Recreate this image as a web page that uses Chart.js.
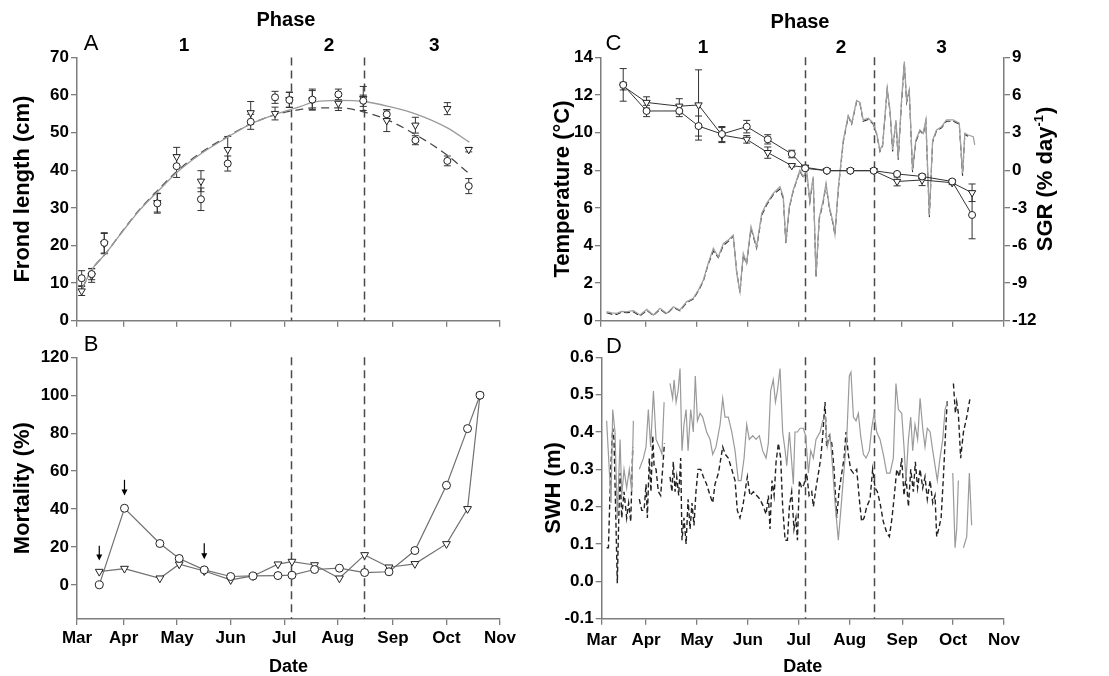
<!DOCTYPE html>
<html><head><meta charset="utf-8">
<script src="https://cdn.jsdelivr.net/npm/chart.js@4.4.1/dist/chart.umd.min.js"></script>
<style>
html,body{margin:0;padding:0;background:#fff;width:1109px;height:676px;overflow:hidden;position:relative;}
canvas{position:absolute;}
</style></head><body>
<canvas id="cA" width="540" height="330" style="left:0;top:0"></canvas>
<canvas id="cB" width="540" height="346" style="left:0;top:330px"></canvas>
<canvas id="cC" width="569" height="330" style="left:540px;top:0"></canvas>
<canvas id="cD" width="569" height="346" style="left:540px;top:330px"></canvas>
<script>
// ---------- shared axis data ----------
const monthLabels = ['Mar','Apr','May','Jun','Jul','Aug','Sep','Oct','Nov'];
const monthTickDays = [0,27,58,89,120,151,183,214,245];
const phaseBoundaryDays = [124,166];
const phaseNames = ['1','2','3'];
const phaseLabelDays = [62,146,207];
const phaseTitleDay = 121;

// ---------- Panel A: frond length ----------
const frondTicks = [0,10,20,30,40,50,60,70];
const frondDays = [2.7,8.5,15.8,46.5,57.7,71.8,87.3,100.6,114.7,123,136.3,151.4,165.8,179.4,196,214.5,226.9];
const frondCircle = [11.3,12.4,20.7,31.2,41.1,32.3,41.8,52.9,59.4,58.7,58.8,60.2,58.5,54.9,48.0,42.5,35.8];
const frondCircleErr = [2.0,1.5,2.7,2.6,3.0,3.0,2.0,2.0,1.6,2.0,2.8,1.4,1.5,1.2,1.2,1.3,2.0];
const frondTri = [7.9,12.0,20.5,31.4,43.6,37.1,45.5,55.3,55.1,58.8,58.7,57.8,59.1,53.2,52.0,56.4,45.5];
const frondTriErr = [1.2,1.8,2.7,2.5,2.5,2.8,3.5,3.0,1.7,2.0,2.5,1.9,3.2,2.9,2.1,1.6,0.6];
const fitDays = [3.1,8.3,16.7,27,36.3,46.6,58.3,71.8,87.6,101,115,129.6,136.5,151.6,166.4,180.4,196.8,214.5,227.2];
const fitTriSolid = [8.6,13.4,17.9,24.1,29.4,34.3,39.6,44.4,48.9,52.4,54.9,57.0,58.1,58.6,58.3,57.0,54.9,51.3,47.5];
const fitCircleDashed = [8.6,13.4,17.9,24.2,29.6,34.6,39.9,44.7,49.1,52.4,54.8,56.2,56.6,56.6,55.5,53.3,49.3,44.0,39.1];

// ---------- Panel B: mortality ----------
const mortTicks = [0,20,40,60,80,100,120];
const mortDays = [12.9,27.5,48,59.2,73.7,89,102,116.4,124.5,137.6,152,166.6,180.7,195.7,214,226.2,233.4];
const mortCircle = [0,40.4,21.8,13.9,7.9,4.4,4.7,4.9,5.1,8.1,8.8,6.5,6.9,18.1,52.5,82.4,100];
const mortTri = [7.0,8.6,3.5,10.9,7.3,2.6,4.7,10.9,12.3,10.5,3.5,15.8,9.3,11.1,21.6,40.1,100];
const arrowDays = [12.9,27.5,73.7];
const arrowFrom = [20.6,55.4,22];
const arrowTo = [12.8,47.1,13.5];

// ---------- Panel C: temperature & SGR ----------
const tempTicks = [0,2,4,6,8,10,12,14];
const sgrTicks = [-12,-9,-6,-3,0,3,6,9];
const sgrDays = [13.5,27.7,47.6,59.3,73.5,88.6,101.4,116,124.1,137.3,151.6,165.8,180,195.2,213.5,225.6];
const sgrCircle = [6.8,4.72,4.72,3.52,2.88,3.47,2.46,1.29,0.15,-0.04,-0.04,-0.04,-0.3,-0.5,-0.9,-3.57];
const sgrCircleErr = [1.3,0.45,0.45,0.8,0.6,0.5,0.37,0.3,0.15,0.1,0.15,0.15,0.1,0.15,0.15,1.9];
const sgrTri = [6.7,5.4,5.1,5.2,2.8,2.46,1.4,0.36,0.23,-0.04,-0.04,-0.04,-0.9,-0.78,-1.0,-1.8];
const sgrTriErr = [0.3,0.45,0.6,2.8,0.6,0.3,0.45,0.1,0.15,0.1,0.1,0.1,0.35,0.45,0.15,0.7];
const tempGray = [[3.4,0.48],[6.5,0.42],[9.5,0.39],[12.5,0.5],[15.6,0.48],[19.7,0.53],[23.7,0.30],[27.8,0.60],[31.8,0.30],[35.9,0.66],[39.9,0.39],[44,0.74],[48,0.57],[52,1.0],[56.1,1.19],[59.2,1.63],[62.2,2.16],[65.2,3.05],[68.3,3.85],[71.3,3.4],[74.4,4.11],[77.4,4.29],[80.4,4.55],[82.5,2.52],[84.5,1.55],[86.5,3.58],[88.5,3.05],[91.2,5.0],[94.6,3.93],[97.7,5.7],[100.7,6.24],[104.7,6.77],[108.8,7.12],[110.8,6.6],[112.4,4.15],[114.5,6.06],[116.9,6.95],[120.9,8.0],[123,7.66],[125,8.0],[127,6.4],[129,7.66],[130.7,2.4],[132.7,5.5],[135.1,6.4],[136.8,7.3],[138.8,6.06],[141.2,5.17],[142.2,4.6],[144.3,7.1],[147.3,9.6],[150.3,10.9],[152.4,10.5],[155.4,11.7],[157.4,11.6],[159.4,10.67],[162.5,10.76],[165.5,10.5],[167.6,9.96],[169.6,9.07],[171.2,9.34],[174,12.35],[175.7,11.2],[177.3,9.07],[179.3,10.67],[180.7,8.63],[182.7,11.7],[184.4,13.77],[185.8,11.7],[187.4,12.26],[189.4,8.0],[191.4,9.6],[193.9,10.14],[195.9,9.96],[197.5,10.67],[199.6,5.6],[201.6,9.6],[204,10.14],[207,10.31],[210.1,10.67],[214.1,10.67],[217.8,10.5],[219.8,7.83],[221.2,9.96],[223.2,9.87],[226.3,9.78],[227.2,9.34]];
const tempBlack = [[3.4,0.42],[6.5,0.35],[9.5,0.33],[12.5,0.45],[15.6,0.42],[19.7,0.47],[23.7,0.25],[27.8,0.55],[31.8,0.27],[35.9,0.6],[39.9,0.35],[44,0.7],[48,0.52],[52,0.95],[56.1,1.15],[59.2,1.58],[62.2,2.1],[65.2,3.0],[68.3,3.7],[71.3,3.35],[74.4,4.0],[77.4,4.22],[80.4,4.5],[82.5,2.6],[84.5,1.5],[86.5,3.5],[88.5,3.0],[91.2,4.9],[94.6,3.85],[97.7,5.6],[100.7,6.15],[104.7,6.7],[108.8,7.0],[110.8,6.5],[112.4,4.1],[114.5,6.0],[116.9,6.9],[120.9,7.95],[123,7.6],[125,7.95],[127,6.3],[129,7.6],[130.7,2.3],[132.7,5.4],[135.1,6.3],[136.8,7.2],[138.8,6.0],[141.2,5.1],[142.2,4.55],[144.3,7.0],[147.3,9.5],[150.3,10.85],[152.4,10.45],[155.4,11.65],[157.4,11.55],[159.4,10.6],[162.5,10.7],[165.5,10.45],[167.6,9.9],[169.6,9.0],[171.2,9.3],[174,12.3],[175.7,11.1],[177.3,9.0],[179.3,10.6],[180.7,8.55],[182.7,11.6],[184.4,13.7],[185.8,11.6],[187.4,12.2],[189.4,7.9],[191.4,9.5],[193.9,10.1],[195.9,9.9],[197.5,10.6],[199.6,5.5],[201.6,9.5],[204,10.1],[207,10.25],[210.1,10.6],[214.1,10.6],[217.8,10.45],[219.8,7.7],[221.2,9.9],[223.2,9.8]];

// ---------- Panel D: significant wave height ----------
const swhTicks = [-0.1,0.0,0.1,0.2,0.3,0.4,0.5,0.6];
const swhGray = [[3.0,0.43],[5.7,0.21],[6.7,0.46],[8.1,0.40],[9.5,0.17],[11.2,0.38],[12.2,0.23],[13.6,0.30],[15.2,0.25],[16.8,0.30],[18.3,0.24],[19.3,0.43],[21,null],
[22.9,0.30],[25.4,0.33],[27.0,0.36],[28.4,0.46],[29.8,0.36],[31.5,0.51],[33.1,0.38],[35.1,0.36],[36.7,0.34],[38.0,0.48],[40,null],
[41.6,0.53],[43.2,0.49],[44.1,0.54],[45.3,0.48],[46.5,0.51],[47.7,0.57],[48.9,0.35],[50.1,0.42],[51.4,0.46],[52.6,0.35],[54.2,0.46],[55.8,0.40],[57.0,0.55],[58.3,0.43],[59.9,0.45],[61.5,0.44],[63.9,0.40],[66.0,0.38],[67.6,0.34],[69.6,0.36],[72.1,0.42],[73.7,0.49],[75.1,0.44],[77.1,0.44],[79.2,0.40],[81.2,0.35],[83.2,0.27],[84.9,0.27],[86.7,0.33],[88.3,0.42],[89.9,0.38],[92.0,0.39],[94.0,0.38],[96.0,0.39],[98.0,0.35],[100.1,0.33],[101.5,0.37],[102.9,0.51],[104.5,0.54],[105.8,0.48],[107.0,0.51],[108.6,0.57],[110.2,0.40],[111.7,0.35],[112.7,0.31],[114.3,0.40],[115.7,0.32],[116.7,0.26],[117.7,0.40],[119.2,0.40],[120.8,0.41],[122.8,0.41],[124.2,0.39],[125.9,0.29],[127.3,0.35],[128.9,0.33],[130.5,0.38],[133.0,0.40],[134.6,0.43],[136.2,0.44],[137.4,0.36],[139.1,0.39],[140.7,0.30],[142.1,0.21],[144.1,0.11],[145.8,0.20],[147.6,0.30],[149.2,0.38],[150.8,0.55],[151.8,0.56],[153.3,0.44],[154.9,0.43],[156.3,0.45],[157.7,0.39],[159.4,0.34],[161.0,0.33],[163.0,0.35],[164.4,0.41],[165.9,0.45],[167.5,0.40],[169.5,0.38],[171.5,0.34],[173.6,0.29],[175.6,0.29],[177.6,0.33],[179.2,0.53],[180.7,0.46],[182.7,0.45],[184.1,0.36],[185.3,0.27],[186.8,0.38],[188.2,0.44],[189.4,0.35],[190.8,0.42],[192.4,0.38],[193.9,0.49],[195.5,0.41],[196.9,0.36],[198.3,0.41],[200.0,0.40],[201.6,0.35],[203.0,0.31],[204.4,0.27],[206.0,0.33],[207.7,0.38],[209.1,0.46],[210.5,0.48],[212,null],
[213.8,0.29],[215.2,0.09],[216.2,0.14],[217.2,0.27],[219,null],[220.3,0.09],[222.3,0.12],[223.9,0.29],[225.3,0.15]];
const swhBlack = [[3.0,0.09],[4.1,0.09],[5.5,0.30],[6.7,0.41],[7.5,0.38],[8.3,0.23],[9.5,-0.005],[10.4,0.17],[11.2,0.29],[12.2,0.17],[13.6,0.24],[15.2,0.17],[16.4,0.21],[17.7,0.16],[18.9,0.36],[21,null],
[22.9,0.22],[24.4,0.19],[25.8,0.19],[27.0,0.26],[27.8,0.17],[29.0,0.33],[30.0,0.24],[31.1,0.39],[31.9,0.31],[33.1,0.30],[34.5,0.24],[35.9,0.23],[37.1,0.30],[38.2,0.37],[40,null],
[41.6,0.28],[42.8,0.24],[43.6,0.32],[44.7,0.24],[45.7,0.28],[46.9,0.23],[48.1,0.33],[48.9,0.11],[50.1,0.17],[51.4,0.10],[52.6,0.22],[53.8,0.14],[55.0,0.21],[56.2,0.15],[57.4,0.24],[58.7,0.30],[60.3,0.30],[61.9,0.28],[63.9,0.26],[66.0,0.23],[67.6,0.21],[69.0,0.26],[71.1,0.29],[73.7,0.36],[75.3,0.34],[77.1,0.33],[79.2,0.30],[81.2,0.27],[82.6,0.19],[84.2,0.17],[85.9,0.20],[87.3,0.24],[88.7,0.28],[90.3,0.23],[92.4,0.24],[94.4,0.23],[96.4,0.22],[98.5,0.20],[100.1,0.18],[101.5,0.23],[102.5,0.14],[103.7,0.27],[105.0,0.23],[106.2,0.32],[107.6,0.37],[109.0,0.33],[110.2,0.20],[111.7,0.11],[113.1,0.11],[114.3,0.20],[115.7,0.24],[117.1,0.14],[118.3,0.17],[119.2,0.11],[120.4,0.27],[121.8,0.25],[123.2,0.26],[124.8,0.29],[126.3,0.23],[127.9,0.24],[128.9,0.20],[130.5,0.25],[132.0,0.29],[133.4,0.33],[134.6,0.39],[136.0,0.48],[137.0,0.36],[138.6,0.39],[140.1,0.37],[141.5,0.30],[143.1,0.17],[144.5,0.24],[146.2,0.29],[147.6,0.33],[148.8,0.40],[150.2,0.34],[151.6,0.30],[153.3,0.29],[155.3,0.30],[156.9,0.22],[158.3,0.16],[159.8,0.17],[161.4,0.20],[163.4,0.22],[165.0,0.30],[166.5,0.25],[167.9,0.24],[169.5,0.21],[171.5,0.16],[173.6,0.13],[175.2,0.12],[176.8,0.17],[178.2,0.23],[179.7,0.30],[181.3,0.28],[182.7,0.33],[184.1,0.23],[185.3,0.28],[186.8,0.20],[188.2,0.30],[189.8,0.24],[191.0,0.32],[192.4,0.25],[193.9,0.30],[195.5,0.25],[196.9,0.28],[198.3,0.22],[200.0,0.27],[201.6,0.21],[203.0,0.23],[204.0,0.12],[205.2,0.14],[206.7,0.17],[208.1,0.28],[209.3,0.39],[210.5,0.49],[212,null],
[214.2,0.53],[215.4,0.45],[216.2,0.48],[217.2,0.45],[218.6,0.33],[220.3,0.40],[222.3,0.44],[224.3,0.49]];

// ---------- styling ----------
const FONT = "'Liberation Sans', Arial, Helvetica, sans-serif";
const AXIS = '#7d7d7d';
const tickFont = {family: FONT, size: 17, weight: 'bold'};
const titleFont = {family: FONT, size: 22, weight: 'bold', lineHeight: 1};

const toPts = (xs, ys) => xs.map((x, i) => ({x, y: ys[i]}));
const fromPairs = arr => arr.map(([x, y]) => ({x, y}));

function xAxis(showLabels, height, pad) {
  return {
    type: 'linear', min: 0, max: 245,
    afterBuildTicks: s => { s.ticks = monthTickDays.map(v => ({value: v})); },
    afterFit: s => { s.height = height; s.paddingLeft = 0; s.paddingRight = 0; },
    ticks: {display: showLabels, autoSkip: false, maxRotation: 0, minRotation: 0, padding: pad, color: '#000', font: tickFont,
            callback: (v, i) => monthLabels[i]},
    grid: {drawOnChartArea: false, drawTicks: true, tickLength: 6, color: AXIS, lineWidth: 1.3},
    border: {display: true, color: AXIS, width: 1.5},
    title: showLabels ? {display: true, text: 'Date', color: '#000', font: {family: FONT, size: 18, weight: 'bold', lineHeight: 1}, padding: {top: 0, bottom: 0}} : {display: false}
  };
}
function yAxis(o) {
  return {
    type: 'linear', position: o.position || 'left', min: o.min, max: o.max,
    afterBuildTicks: s => { s.ticks = o.ticks.map(v => ({value: v})); },
    afterFit: s => { s.width = o.width; s.paddingTop = 0; s.paddingBottom = 0; },
    ticks: {autoSkip: false, padding: o.pad == null ? 2 : o.pad, color: '#000', font: tickFont, callback: o.fmt || (v => String(v))},
    grid: {drawOnChartArea: false, drawTicks: true, tickLength: 6, color: AXIS, lineWidth: 1.3},
    border: {display: true, color: AXIS, width: 1.5},
    title: o.title ? {display: true, text: o.title, color: '#000', font: titleFont, padding: {top: o.tpad, bottom: 0}} : {display: false}
  };
}

// ---------- decoration plugin ----------
const decor = {
  id: 'decor',
  beforeDatasetsDraw(chart, args, o) {
    const ctx = chart.ctx, ca = chart.chartArea, xs = chart.scales.x;
    ctx.save();
    ctx.strokeStyle = '#4a4a4a'; ctx.lineWidth = 1.5; ctx.setLineDash([8, 5]);
    phaseBoundaryDays.forEach(d => {
      const px = Math.round(xs.getPixelForValue(d)) + 0.5;
      ctx.beginPath(); ctx.moveTo(px, ca.top); ctx.lineTo(px, ca.bottom); ctx.stroke();
    });
    ctx.restore();
    chart.data.datasets.forEach((ds, i) => {
      if (!ds.errors) return;
      const meta = chart.getDatasetMeta(i);
      const ys = chart.scales[meta.yAxisID];
      ctx.save(); ctx.strokeStyle = ds.errColor || '#333'; ctx.lineWidth = 1;
      meta.data.forEach((pt, j) => {
        const e = ds.errors[j], v = ds.data[j].y;
        if (e == null || v == null) return;
        const y1 = ys.getPixelForValue(v + e), y2 = ys.getPixelForValue(v - e), x = pt.x;
        ctx.beginPath();
        ctx.moveTo(x, y1); ctx.lineTo(x, y2);
        ctx.moveTo(x - 3.5, y1); ctx.lineTo(x + 3.5, y1);
        ctx.moveTo(x - 3.5, y2); ctx.lineTo(x + 3.5, y2);
        ctx.stroke();
      });
      ctx.restore();
    });
  },
  afterDraw(chart, args, o) {
    const ctx = chart.ctx, xs = chart.scales.x;
    ctx.save();
    ctx.fillStyle = '#000'; ctx.textAlign = 'center'; ctx.textBaseline = 'middle';
    if (o.letter) {
      ctx.font = `22px ${FONT}`;
      ctx.fillText(o.letter, o.letterX, o.letterY);
    }
    if (o.phase) {
      ctx.font = `bold 20px ${FONT}`;
      ctx.fillText('Phase', xs.getPixelForValue(phaseTitleDay), o.phaseTitleY);
      ctx.font = `bold 19px ${FONT}`;
      phaseNames.forEach((n, i) => ctx.fillText(n, xs.getPixelForValue(phaseLabelDays[i]), o.phaseNumY));
    }
    if (o.arrows) {
      const ys = chart.scales.y;
      ctx.strokeStyle = '#000'; ctx.lineWidth = 1.2;
      arrowDays.forEach((d, i) => {
        const x = xs.getPixelForValue(d), y1 = ys.getPixelForValue(arrowFrom[i]), y2 = ys.getPixelForValue(arrowTo[i]);
        ctx.beginPath(); ctx.moveTo(x, y1); ctx.lineTo(x, y2 - 5); ctx.stroke();
        ctx.beginPath(); ctx.moveTo(x - 3, y2 - 6); ctx.lineTo(x + 3, y2 - 6); ctx.lineTo(x, y2); ctx.closePath(); ctx.fill();
      });
    }
    if (o.sgrTitle) {
      ctx.translate(o.sgrX, o.sgrY);
      ctx.rotate(-Math.PI / 2);
      const big = `bold 22px ${FONT}`, small = `bold 13px ${FONT}`;
      ctx.font = big; const w1 = ctx.measureText('SGR (% day').width, w3 = ctx.measureText(')').width;
      ctx.font = small; const w2 = ctx.measureText('-1').width + 1;
      const sx = -(w1 + w2 + w3) / 2;
      ctx.textAlign = 'left';
      ctx.font = big; ctx.fillText('SGR (% day', sx, 0);
      ctx.font = small; ctx.fillText('-1', sx + w1, -7);
      ctx.font = big; ctx.fillText(')', sx + w1 + w2, 0);
    }
    ctx.restore();
  }
};
Chart.register(decor);

function baseOptions(padding, scales, decorOpts) {
  return {
    responsive: false, animation: false, devicePixelRatio: 1, events: [],
    layout: {padding},
    scales,
    plugins: {legend: {display: false}, tooltip: {enabled: false}, decor: decorOpts}
  };
}
const circleStyle = (r) => ({pointStyle: 'circle', pointRadius: r, pointBorderColor: '#222', pointBackgroundColor: '#fff', pointBorderWidth: 1});
const triStyle = (r) => ({pointStyle: 'triangle', pointRotation: 180, pointRadius: r, pointBorderColor: '#222', pointBackgroundColor: '#fff', pointBorderWidth: 1});

// ---------- Chart A ----------
new Chart(document.getElementById('cA'), {
  type: 'scatter',
  data: {datasets: [
    {label: 'circle', data: toPts(frondDays, frondCircle), errors: frondCircleErr, showLine: false, ...circleStyle(3.5)},
    {label: 'triangle', data: toPts(frondDays, frondTri), errors: frondTriErr, showLine: false, ...triStyle(4.2)},
    {label: 'fit triangle', data: toPts(fitDays, fitTriSolid), showLine: true, pointRadius: 0, borderColor: '#9a9a9a', borderWidth: 1.3, cubicInterpolationMode: 'monotone'},
    {label: 'fit circle', data: toPts(fitDays, fitCircleDashed), showLine: true, pointRadius: 0, borderColor: '#4a4a4a', borderWidth: 1.3, borderDash: [8, 5], cubicInterpolationMode: 'monotone'}
  ]},
  options: baseOptions({left: 0, right: 40, top: 57.5, bottom: 0},
    {x: xAxis(false, 9.3, 0), y: yAxis({min: 0, max: 70, ticks: frondTicks, width: 77, title: 'Frond length (cm)', tpad: 12})},
    {letter: 'A', letterX: 91, letterY: 44, phase: true, phaseTitleY: 20, phaseNumY: 46})
});

// ---------- Chart B ----------
new Chart(document.getElementById('cB'), {
  type: 'scatter',
  data: {datasets: [
    {label: 'circle', data: toPts(mortDays, mortCircle), showLine: true, borderColor: '#707070', borderWidth: 1.2, ...circleStyle(4)},
    {label: 'triangle', data: toPts(mortDays, mortTri), showLine: true, borderColor: '#707070', borderWidth: 1.2, ...triStyle(4.5)}
  ]},
  options: baseOptions({left: 0, right: 40, top: 27.3, bottom: 0},
    {x: xAxis(true, 57, 3), y: yAxis({min: -18, max: 120, ticks: mortTicks, width: 77, title: 'Mortality (%)', tpad: 12})},
    {letter: 'B', letterX: 91, letterY: 15, arrows: true})
});

// ---------- Chart C ----------
new Chart(document.getElementById('cC'), {
  type: 'scatter',
  data: {datasets: [
    {label: 'SGR circle', data: toPts(sgrDays, sgrCircle), errors: sgrCircleErr, yAxisID: 'y2', showLine: true, borderColor: '#333', borderWidth: 1, ...circleStyle(3.5)},
    {label: 'SGR triangle', data: toPts(sgrDays, sgrTri), errors: sgrTriErr, yAxisID: 'y2', showLine: true, borderColor: '#333', borderWidth: 1, ...triStyle(4.2)},
    {label: 'temp gray', data: fromPairs(tempGray), yAxisID: 'y', showLine: true, pointRadius: 0, borderColor: '#a0a0a0', borderWidth: 1.3},
    {label: 'temp black', data: fromPairs(tempBlack), yAxisID: 'y', showLine: true, pointRadius: 0, borderColor: '#2a2a2a', borderWidth: 1.1, borderDash: [6, 3]}
  ]},
  options: baseOptions({left: 0, right: 0, top: 57.3, bottom: 0},
    {x: xAxis(false, 9.3, 0),
     y: yAxis({min: 0, max: 14, ticks: tempTicks, width: 61, title: 'Temperature (\u00B0C)', tpad: 12}),
     y2: yAxis({position: 'right', min: -12, max: 9, ticks: sgrTicks, width: 105, pad: 2})},
    {letter: 'C', letterX: 73.5, letterY: 44, phase: true, phaseTitleY: 22, phaseNumY: 48, sgrTitle: true, sgrX: 506, sgrY: 179})
});

// ---------- Chart D ----------
new Chart(document.getElementById('cD'), {
  type: 'scatter',
  data: {datasets: [
    {label: 'SWH gray', data: fromPairs(swhGray), showLine: true, spanGaps: false, pointRadius: 0, borderColor: '#9a9a9a', borderWidth: 1.2},
    {label: 'SWH black', data: fromPairs(swhBlack), showLine: true, spanGaps: false, pointRadius: 0, borderColor: '#222', borderWidth: 1.4, borderDash: [5, 3]}
  ]},
  options: baseOptions({left: 0, right: 105, top: 27.3, bottom: 0},
    {x: xAxis(true, 57.3, 5), y: yAxis({min: -0.1, max: 0.6, ticks: swhTicks, width: 61.7, title: 'SWH (m)', tpad: 2.5, fmt: v => v.toFixed(1)})},
    {letter: 'D', letterX: 74, letterY: 17})
});
</script>
</body></html>
